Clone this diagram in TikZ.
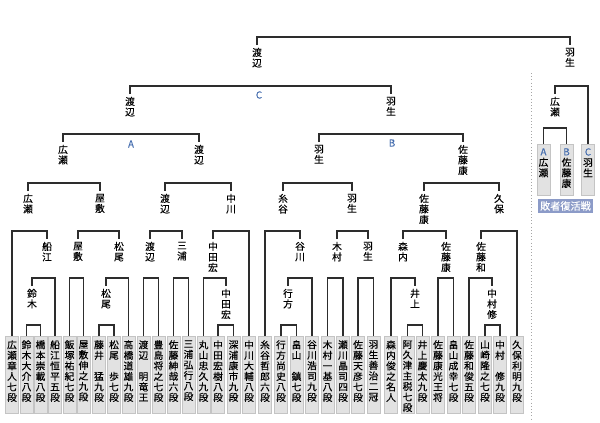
\documentclass[tikz,border=0pt]{standalone}
\usepackage{fontspec}
\newfontfamily\cjk[FakeBold=0.3]{Noto Sans CJK JP}
\definecolor{linegray}{RGB}{45,45,45}
\definecolor{boxfill}{RGB}{226,226,226}
\definecolor{boxedge}{RGB}{196,196,196}
\definecolor{abcblue}{RGB}{70,110,175}
\definecolor{revivalblue}{RGB}{140,155,200}
\newcommand{\tate}[2][52pt]{\parbox[c][#1][t]{9pt}{\centering #2}}

\begin{document}
\begin{tikzpicture}[x=0.75pt, y=-0.75pt, every node/.style={font=\cjk\fontsize{7.3}{7.9}\selectfont}]
  \tikzset{
    pbox/.style={draw=boxedge, fill=boxfill, anchor=north, inner xsep=0pt, inner ysep=3pt, minimum width=9.75pt},
    pname/.style={anchor=north, align=center, inner sep=2pt},
    bline/.style={draw=linegray, line width=0.9pt},
    grp/.style={text=abcblue}
  }
  \useasboundingbox (0,0) rectangle (600,422);

  % Players (bottom row)
  \node[pbox] (hirose)      at (12,336)    {\tate{広\\瀬\\章\\人\\七\\段}};
  \node[pbox] (suzuki)      at (26.5,336)  {\tate{鈴\\木\\大\\介\\八\\段}};
  \node[pbox] (hashimoto)   at (40.5,336)  {\tate{橋\\本\\崇\\載\\八\\段}};
  \node[pbox] (funae)       at (55,336)    {\tate{船\\江\\恒\\平\\五\\段}};
  \node[pbox] (iizuka)      at (69.5,336)  {\tate{飯\\塚\\祐\\紀\\七\\段}};
  \node[pbox] (yashiki)     at (83.5,336)  {\tate{屋\\敷\\伸\\之\\九\\段}};
  \node[pbox] (fujii)       at (99,336)    {\tate{藤\\井\\　\\猛\\九\\段}};
  \node[pbox] (matsuo)      at (114,336)   {\tate{松\\尾\\　\\歩\\七\\段}};
  \node[pbox] (takahashi)   at (128.5,336) {\tate{高\\橋\\道\\雄\\九\\段}};
  \node[pbox] (watanabe)    at (143.5,336) {\tate{渡\\辺\\　\\明\\竜\\王}};
  \node[pbox] (toyoshima)   at (158.5,336) {\tate{豊\\島\\将\\之\\七\\段}};
  \node[pbox] (satoS)       at (173.5,336) {\tate{佐\\藤\\紳\\哉\\六\\段}};
  \node[pbox] (miura)       at (188.5,336) {\tate{三\\浦\\弘\\行\\八\\段}};
  \node[pbox] (maruyama)    at (203.5,336) {\tate{丸\\山\\忠\\久\\九\\段}};
  \node[pbox] (nakataH)     at (218,336)   {\tate{中\\田\\宏\\樹\\八\\段}};
  \node[pbox] (fukaura)     at (233.5,336) {\tate{深\\浦\\康\\市\\九\\段}};
  \node[pbox] (nakagawa)    at (249,336)   {\tate{中\\川\\大\\輔\\八\\段}};
  \node[pbox] (itodani)     at (265,336)   {\tate{糸\\谷\\哲\\郎\\六\\段}};
  \node[pbox] (namekata)    at (281,336)   {\tate{行\\方\\尚\\史\\八\\段}};
  \node[pbox] (hatakeyamaM) at (296.5,336) {\tate{畠\\山\\　\\鎮\\七\\段}};
  \node[pbox] (tanigawa)    at (312,336)   {\tate{谷\\川\\浩\\司\\九\\段}};
  \node[pbox] (kimura)      at (327.5,336) {\tate{木\\村\\一\\基\\八\\段}};
  \node[pbox] (segawa)      at (343,336)   {\tate{瀬\\川\\晶\\司\\四\\段}};
  \node[pbox] (satoA)       at (358,336)   {\tate{佐\\藤\\天\\彦\\七\\段}};
  \node[pbox] (habu)        at (373.5,336) {\tate{羽\\生\\善\\治\\二\\冠}};
  \node[pbox] (moriuchi)    at (391,336)   {\tate{森\\内\\俊\\之\\名\\人}};
  \node[pbox] (akutsu)      at (407.5,336) {\tate{阿\\久\\津\\主\\税\\七\\段}};
  \node[pbox] (inoue)       at (422.5,336) {\tate{井\\上\\慶\\太\\九\\段}};
  \node[pbox] (satoY)       at (438,336)   {\tate{佐\\藤\\康\\光\\王\\将}};
  \node[pbox] (hatakeyamaN) at (453.5,336) {\tate{畠\\山\\成\\幸\\七\\段}};
  \node[pbox] (satoK)       at (469,336)   {\tate{佐\\藤\\和\\俊\\五\\段}};
  \node[pbox] (yamasaki)    at (485,336)   {\tate{山\\崎\\隆\\之\\七\\段}};
  \node[pbox] (nakamura)    at (500,336)   {\tate{中\\村\\　\\修\\九\\段}};
  \node[pbox] (kubo)        at (517,336)   {\tate{久\\保\\利\\明\\九\\段}};

  % Winners, row by row
  \node[pname] (suzuki7)   at (32,286)  {鈴\\木};
  \node[pname] (matsuo7)   at (106,286) {松\\尾};
  \node[pname] (nakataH7)  at (226,286) {中\\田\\宏};
  \node[pname] (namekata7) at (288,286) {行\\方};
  \node[pname] (inoue7)    at (415,286) {井\\上};
  \node[pname] (nakamura7) at (492,286) {中\\村\\修};

  \node[pname] (funae6)    at (47,239)  {船\\江};
  \node[pname] (yashiki6)  at (78,239)  {屋\\敷};
  \node[pname] (matsuo6)   at (119,239) {松\\尾};
  \node[pname] (watanabe6) at (150,239) {渡\\辺};
  \node[pname] (miura6)    at (182,239) {三\\浦};
  \node[pname] (nakataH6)  at (213,239) {中\\田\\宏};
  \node[pname] (tanigawa6) at (300,239) {谷\\川};
  \node[pname] (kimura6)   at (337,239) {木\\村};
  \node[pname] (habu6)     at (368,239) {羽\\生};
  \node[pname] (moriuchi6) at (403,239) {森\\内};
  \node[pname] (satoY6)    at (446,239) {佐\\藤\\康};
  \node[pname] (satoK6)    at (481,239) {佐\\藤\\和};

  \node[pname] (hirose5)   at (28,191)  {広\\瀬};
  \node[pname] (yashiki5)  at (100,191) {屋\\敷};
  \node[pname] (watanabe5) at (165,191) {渡\\辺};
  \node[pname] (nakagawa5) at (231,191) {中\\川};
  \node[pname] (itodani5)  at (283,191) {糸\\谷};
  \node[pname] (habu5)     at (352,191) {羽\\生};
  \node[pname] (satoY5)    at (424,191) {佐\\藤\\康};
  \node[pname] (kubo5)     at (499,191) {久\\保};

  \node[pname] (hirose4)   at (63,142)  {広\\瀬};
  \node[pname] (watanabe4) at (199,142) {渡\\辺};
  \node[pname] (habu4)     at (319,142) {羽\\生};
  \node[pname] (satoY4)    at (463,142) {佐\\藤\\康};

  \node[pname] (watanabe3) at (130,94)  {渡\\辺};
  \node[pname] (habu3)     at (391,94)  {羽\\生};
  \node[pname] (hiroseR)   at (555,94)  {広\\瀬};

  \node[pname] (watanabe2) at (257,45)  {渡\\辺};
  \node[pname] (habuR)     at (570,45)  {羽\\生};

  % Group letters
  \node[grp] (grpA) at (131,144) {A};
  \node[grp] (grpB) at (392,143) {B};
  \node[grp] (grpC) at (259,95)  {C};

  % Losers' bracket
  \draw[gray!70, dotted] (531,73) -- (531,420);
  \node[pbox] (boxA) at (543.5,144) {\tate[32pt]{{\color{abcblue}A}\\広\\瀬}};
  \node[pbox] (boxB) at (566.5,144) {\tate[32pt]{{\color{abcblue}B}\\佐\\藤\\康}};
  \node[pbox] (boxC) at (588,144)   {\tate[32pt]{{\color{abcblue}C}\\羽\\生}};
  \node[fill=revivalblue, text=white, inner sep=0pt, minimum width=41.25pt, minimum height=10.5pt,
        font=\cjk\fontsize{7.6}{8}\selectfont] (revival) at (565.5,206) {敗者復活戦};

  % Bracket lines
  \draw[bline] (suzuki.north)   |- (hashimoto.north |- 0,325)   -- (hashimoto.north);
  \draw[bline] (fujii.north)    |- (matsuo.north |- 0,325)      -- (matsuo.north);
  \draw[bline] (nakataH.north)  |- (fukaura.north |- 0,325)     -- (fukaura.north);
  \draw[bline] (namekata.north) |- (hatakeyamaM.north |- 0,325) -- (hatakeyamaM.north);
  \draw[bline] (akutsu.north)   |- (inoue.north |- 0,325)       -- (inoue.north);
  \draw[bline] (yamasaki.north) |- (nakamura.north |- 0,325)    -- (nakamura.north);

  \draw[bline] (suzuki7.north)   |- (funae.north |- 0,278)       -- (funae.north);
  \draw[bline] (iizuka.north)    |- (yashiki.north |- 0,278)     -- (yashiki.north);
  \draw[bline] (matsuo7.north)   |- (takahashi.north |- 0,278)   -- (takahashi.north);
  \draw[bline] (watanabe.north)  |- (toyoshima.north |- 0,278)   -- (toyoshima.north);
  \draw[bline] (satoS.north)     |- (miura.north |- 0,278)       -- (miura.north);
  \draw[bline] (maruyama.north)  |- (nakataH7.north |- 0,278)    -- (nakataH7.north);
  \draw[bline] (namekata7.north) |- (tanigawa.north |- 0,278)    -- (tanigawa.north);
  \draw[bline] (kimura.north)    |- (segawa.north |- 0,278)      -- (segawa.north);
  \draw[bline] (satoA.north)     |- (habu.north |- 0,278)        -- (habu.north);
  \draw[bline] (moriuchi.north)  |- (inoue7.north |- 0,278)      -- (inoue7.north);
  \draw[bline] (satoY.north)     |- (hatakeyamaN.north |- 0,278) -- (hatakeyamaN.north);
  \draw[bline] (satoK.north)     |- (nakamura7.north |- 0,278)   -- (nakamura7.north);

  \draw[bline] (hirose.north)    |- (funae6.north |- 0,231)    -- (funae6.north);
  \draw[bline] (yashiki6.north)  |- (matsuo6.north |- 0,231)   -- (matsuo6.north);
  \draw[bline] (watanabe6.north) |- (miura6.north |- 0,231)    -- (miura6.north);
  \draw[bline] (nakataH6.north)  |- (nakagawa.north |- 0,231)  -- (nakagawa.north);
  \draw[bline] (itodani.north)   |- (tanigawa6.north |- 0,231) -- (tanigawa6.north);
  \draw[bline] (kimura6.north)   |- (habu6.north |- 0,231)     -- (habu6.north);
  \draw[bline] (moriuchi6.north) |- (satoY6.north |- 0,231)    -- (satoY6.north);
  \draw[bline] (satoK6.north)    |- (kubo.north |- 0,231)      -- (kubo.north);

  \draw[bline] (hirose5.north)   |- (yashiki5.north |- 0,183)  -- (yashiki5.north);
  \draw[bline] (watanabe5.north) |- (nakagawa5.north |- 0,183) -- (nakagawa5.north);
  \draw[bline] (itodani5.north)  |- (habu5.north |- 0,183)     -- (habu5.north);
  \draw[bline] (satoY5.north)    |- (kubo5.north |- 0,183)     -- (kubo5.north);

  \draw[bline] (hirose4.north) |- (watanabe4.north |- 0,134) -- (watanabe4.north);
  \draw[bline] (habu4.north)   |- (satoY4.north |- 0,134)    -- (satoY4.north);
  \draw[bline] (boxA.north)    |- (boxB.north |- 0,128)      -- (boxB.north);

  \draw[bline] (watanabe3.north) |- (habu3.north |- 0,86) -- (habu3.north);
  \draw[bline] (hiroseR.north)   |- (boxC.north |- 0,86)  -- (boxC.north);

  \draw[bline] (watanabe2.north) |- (habuR.north |- 0,37) -- (habuR.north);
\end{tikzpicture}
\end{document}
